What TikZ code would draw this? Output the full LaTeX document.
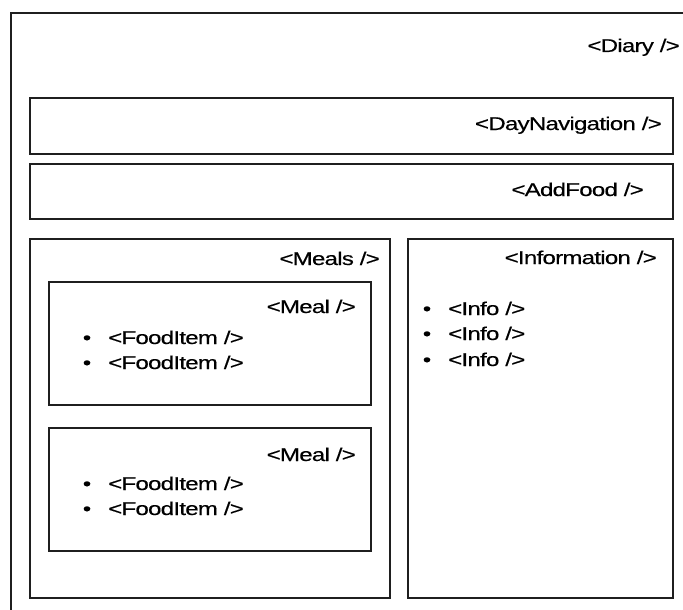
\documentclass[tikz,border=0pt]{standalone}
\usepackage{fontspec}
\setmainfont[FakeStretch=1.3,LetterSpace=-4,FakeBold=0.4]{Liberation Sans}
\newcommand{\lblfont}{\fontsize{18.5pt}{21pt}\selectfont}
\begin{document}
\begin{tikzpicture}[x=1pt,y=-1pt,
  box/.style={draw=black!88,line width=1.6pt,fill=none,inner sep=0pt,anchor=north west},
  lbl/.style={anchor=base east,inner sep=0pt,font=\lblfont},
  item/.style={anchor=base west,inner sep=0pt,font=\lblfont},
  dot/.style={anchor=base,inner sep=0pt,font=\lblfont}]
\useasboundingbox (0,0) rectangle (683,610);
\fill[white] (0,0) rectangle (683,610);
\clip (0,0) rectangle (683,610);

% component boxes
\node[box,minimum width=720pt,minimum height=650pt] (diary) at (10,12) {};
\node[box,minimum width=643pt,minimum height=56pt] (daynav) at (29,97) {};
\node[box,minimum width=643pt,minimum height=55pt] (addfood) at (29,163) {};
\node[box,minimum width=360pt,minimum height=359pt] (meals) at (29,238) {};
\node[box,minimum width=265pt,minimum height=359pt] (information) at (407,238) {};
\node[box,minimum width=322pt,minimum height=123pt] (meala) at (48,281) {};
\node[box,minimum width=322pt,minimum height=123pt] (mealb) at (48,427) {};

% component names
\node[lbl] (tdiary) at (680,52) {<Diary />};
\node[lbl] (tdaynav) at (662,130) {<DayNavigation />};
\node[lbl] (taddfood) at (644,196) {<AddFood />};
\node[lbl] (tmeals) at (380,265) {<Meals />};
\node[lbl] (tinfo) at (657,264) {<Information />};
\node[lbl] (tmeala) at (356,313) {<Meal />};
\node[lbl] (tmealb) at (356,461) {<Meal />};

% food items of the first meal
\node[dot] (ba1) at (87,344) {•};
\node[item] (fa1) at (108,344) {<FoodItem />};
\node[dot] (ba2) at (87,369) {•};
\node[item] (fa2) at (108,369) {<FoodItem />};

% food items of the second meal
\node[dot] (bb1) at (87,490) {•};
\node[item] (fb1) at (108,490) {<FoodItem />};
\node[dot] (bb2) at (87,515) {•};
\node[item] (fb2) at (108,515) {<FoodItem />};

% info entries
\node[dot] (bi1) at (427,315) {•};
\node[item] (i1) at (448,315) {<Info />};
\node[dot] (bi2) at (427,340) {•};
\node[item] (i2) at (448,340) {<Info />};
\node[dot] (bi3) at (427,366) {•};
\node[item] (i3) at (448,366) {<Info />};
\end{tikzpicture}
\end{document}
